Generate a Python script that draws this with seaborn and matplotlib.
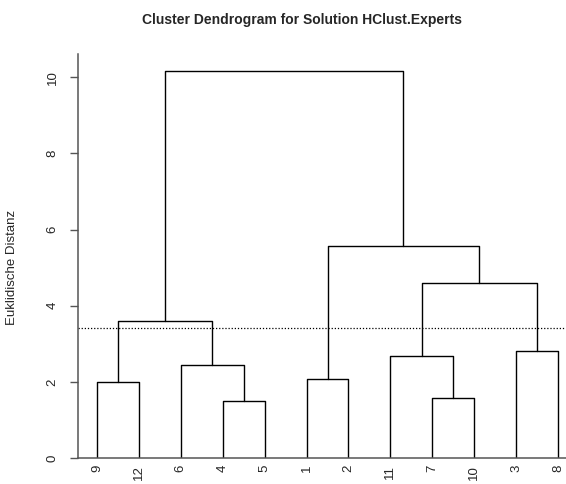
import numpy as np
import pandas as pd
import matplotlib
matplotlib.use("Agg")
import matplotlib.pyplot as plt
import seaborn as sns

# ---- data ----
leaves = ["9", "12", "6", "4", "5", "1", "2", "11", "7", "10", "3", "8"]
merge_left = ["9", "4", "6", "m0", "1", "7", "11", "3", "m6", "m4", "m3"]
merge_right = ["12", "5", "m1", "m2", "2", "10", "m5", "8", "m7", "m8", "m9"]
merge_height = [2.00, 1.51, 2.45, 3.59, 2.07, 1.58, 2.67, 2.82, 4.60, 5.56, 10.16]
cut_height = 3.42
y_ticks = [0, 2, 4, 6, 8, 10]
title = "Cluster Dendrogram for Solution HClust.Experts"
ylabel = "Euklidische Distanz"

# ---- build segments ----
pos = {lab: i + 1 for i, lab in enumerate(leaves)}
hgt = {lab: 0.0 for lab in leaves}
rows = []
for k, (l, r, h) in enumerate(zip(merge_left, merge_right, merge_height)):
    xl, xr = pos[l], pos[r]
    pts = [(xl, hgt[l]), (xl, h), (xr, h), (xr, hgt[r])]
    for j, (x, y) in enumerate(pts):
        rows.append({"merge": k, "order": j, "x": x, "y": y})
    name = f"m{k}"
    pos[name] = (xl + xr) / 2
    hgt[name] = h
df = pd.DataFrame(rows)

sns.set_theme(style="white")
plt.rcParams["font.family"] = ["Liberation Sans", "DejaVu Sans"]

fig = plt.figure(figsize=(5.66, 4.84), dpi=100)
ax = fig.add_axes([78 / 566, 26 / 484, 1 - 78 / 566, (458 - 54) / 484])

sns.lineplot(data=df, x="x", y="y", units="merge", estimator=None, sort=False,
             color="black", linewidth=1.0, ax=ax, legend=False)
ax.axhline(cut_height, color="black", linestyle=(0, (1, 1.5)), linewidth=0.9)

px_per_unit = 41.9
ax.set_xlim(1 - 19 / px_per_unit, 12 + 8 / px_per_unit)
ax.set_ylim(0, 10.61)

ax.set_xticks(range(1, len(leaves) + 1))
ax.set_xticklabels(leaves, rotation=90, fontsize=9.5)
ax.set_yticks(y_ticks)
ax.set_yticklabels([str(t) for t in y_ticks], rotation=90, fontsize=9.5, va="center")
ax.tick_params(axis="x", length=0, pad=5)
ax.tick_params(axis="y", direction="out", length=6, width=1, color="#555555", pad=8, left=True)
ax.set_xlabel("")
ax.set_ylabel(ylabel, fontsize=9.5)
ax.yaxis.set_label_coords(-(78 - 18) / 488, (458 - 267) / 404)

for s in ["top", "right"]:
    ax.spines[s].set_visible(False)
for s in ["left", "bottom"]:
    ax.spines[s].set_color("#555555")
    ax.spines[s].set_linewidth(1.1)

fig.text(302 / 566, 1 - 20 / 484, title, ha="center", va="center",
         fontsize=10, fontweight="bold")

fig.savefig("out.png", dpi=100)
